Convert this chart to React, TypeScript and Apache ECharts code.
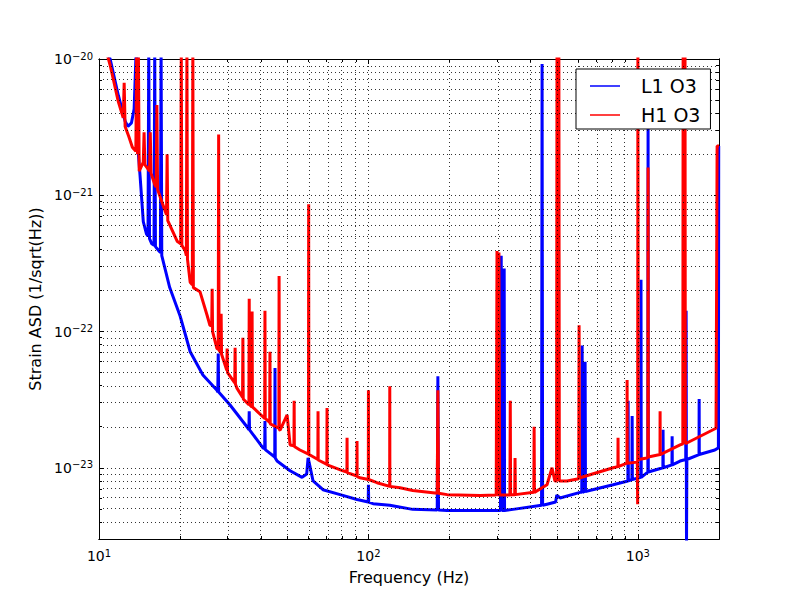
import { useEffect, useRef } from "react";
import * as echarts from "echarts";

// [frequency Hz, strain ASD 1/sqrt(Hz)]
const L1_O3: [number, number][] = [
  [10.8, 1.1e-20], [11.0, 1.0e-20], [11.8, 5.4e-21], [12.5, 3.5e-21], [12.8, 3.2e-21],
  [13.2, 3.4e-21], [13.5, 4.3e-21], [13.7, 1.0e-20], [13.8, 1.2e-20], [14.0, 2.0e-21],
  [14.2, 1.4e-21], [14.6, 6.4e-22], [15.0, 5.2e-22], [15.2, 5.0e-22], [15.3, 1.2e-20],
  [15.4, 4.8e-22], [15.7, 4.4e-22], [16.0, 4.3e-22], [16.1, 1.2e-20], [16.2, 4.2e-22],
  [16.7, 3.9e-22], [16.9, 3.8e-22], [17.0, 1.2e-20], [17.1, 3.6e-22], [18.3, 2.1e-22],
  [20.0, 1.3e-22], [21.8, 7.1e-23], [24.3, 4.8e-23], [27.4, 3.7e-23], [27.6, 3.6e-23],
  [27.7, 6.9e-23], [27.8, 3.6e-23], [30.6, 2.9e-23], [35.4, 2.0e-23], [36.0, 1.9e-23],
  [36.1, 2.6e-23], [36.2, 1.9e-23], [40.6, 1.4e-23], [41.2, 1.38e-23], [41.3, 2.2e-23],
  [41.4, 1.36e-23], [44.9, 1.2e-23], [45.0, 5.4e-23], [45.1, 1.18e-23], [45.8, 1.12e-23],
  [51.2, 9.5e-24], [56.7, 8.5e-24], [59.0, 9.0e-24], [59.7, 1.18e-23], [60.2, 1.1e-23],
  [62.3, 8.0e-24], [67.8, 6.9e-24], [78.5, 6.35e-24], [90.7, 5.85e-24], [99.8, 5.6e-24],
  [100.0, 7.5e-24], [100.2, 5.6e-24], [104, 5.45e-24], [120, 5.3e-24], [146, 4.95e-24],
  [180, 4.9e-24], [181, 4.7e-23], [182, 4.9e-24], [196, 4.85e-24], [260, 4.85e-24],
  [309, 4.85e-24], [311, 3.6e-22], [313, 4.85e-24], [318, 4.85e-24], [319, 2.9e-22],
  [320, 4.85e-24], [344, 4.95e-24], [439, 5.3e-24], [441, 9.2e-21], [443, 5.3e-24],
  [460, 5.4e-24], [495, 5.6e-24], [500, 6.3e-24], [514, 6.0e-24], [610, 6.6e-24],
  [619, 6.6e-24], [621, 7.9e-23], [623, 6.6e-24], [635, 6.7e-24], [637, 6.0e-23],
  [639, 6.7e-24], [809, 7.5e-24], [918, 8.0e-24], [920, 3.1e-23], [922, 8.0e-24],
  [950, 8.2e-24], [952, 2.4e-23], [954, 8.2e-24], [1025, 8.5e-24], [1027, 2.4e-22],
  [1029, 8.5e-24], [1082, 9.2e-24], [1089, 9.3e-24], [1091, 4.2e-21], [1093, 9.3e-24],
  [1238, 1.0e-23], [1240, 1.9e-23], [1242, 1.0e-23], [1338, 1.05e-23], [1340, 1.7e-23],
  [1342, 1.05e-23], [1434, 1.12e-23], [1505, 1.15e-23], [1510, 1.42e-22], [1515, 2.5e-24],
  [1520, 1.15e-23], [1686, 1.25e-23], [1688, 3.2e-23], [1690, 1.25e-23], [1930, 1.35e-23],
  [1990, 1.4e-23], [1995, 2.3e-21], [2000, 2.3e-21]
];

const H1_O3: [number, number][] = [
  [10.7, 1.1e-20], [11.0, 9.0e-21], [11.8, 4.85e-21], [12.3, 3.7e-21], [12.4, 6.7e-21],
  [12.5, 3.2e-21], [12.9, 2.7e-21], [13.3, 2.25e-21], [13.7, 2.1e-21], [13.8, 1.2e-20],
  [13.9, 2.0e-21], [14.0, 1.2e-20], [14.1, 1.5e-21], [14.6, 1.75e-21], [14.7, 2.9e-21],
  [14.8, 1.68e-21], [15.4, 1.5e-21], [15.5, 2.9e-21], [15.6, 1.45e-21], [16.1, 1.2e-21],
  [16.3, 1.15e-21], [16.4, 4.6e-21], [16.5, 1.1e-21], [17.1, 9.0e-22], [17.8, 7.2e-22],
  [17.9, 2.0e-21], [18.0, 6.5e-22], [19.5, 4.6e-22], [20.1, 4.4e-22], [20.2, 1.2e-20],
  [20.3, 4.3e-22], [20.9, 3.9e-22], [21.1, 3.6e-22], [21.2, 1.2e-20], [21.3, 3.4e-22],
  [21.8, 2.3e-22], [22.2, 2.2e-22], [22.3, 1.2e-20], [22.4, 2.1e-22], [23.7, 1.96e-22],
  [25.2, 1.31e-22], [25.8, 1.11e-22], [26.2, 1.1e-22], [26.3, 2.06e-22], [26.4, 1.0e-22],
  [27.4, 7.5e-23], [27.7, 7.4e-23], [27.8, 2.79e-21], [27.9, 7.3e-23], [28.3, 7.0e-23],
  [28.4, 1.35e-22], [28.5, 6.8e-23], [29.8, 5.2e-23], [29.9, 7.5e-23], [30.0, 5.0e-23],
  [31.9, 4.2e-23], [32.0, 7.6e-23], [32.1, 4.1e-23], [32.5, 3.84e-23], [34.1, 3.3e-23],
  [34.2, 9.0e-23], [34.3, 3.2e-23], [36.0, 2.9e-23], [36.1, 1.74e-22], [36.2, 2.9e-23],
  [36.9, 2.8e-23], [37.0, 1.4e-22], [37.1, 2.8e-23], [41.2, 2.3e-23], [41.3, 1.42e-22],
  [41.4, 2.3e-23], [43.0, 2.15e-23], [43.1, 7.1e-23], [43.2, 2.1e-23], [46.5, 1.95e-23],
  [46.6, 2.56e-22], [46.7, 1.9e-23], [47.0, 1.89e-23], [49.9, 2.44e-23], [51.2, 1.47e-23],
  [52.9, 1.45e-23], [53.0, 3.1e-23], [53.1, 1.43e-23], [55.7, 1.35e-23], [59.9, 1.26e-23],
  [60.0, 8.6e-22], [60.1, 1.25e-23], [60.7, 1.24e-23], [64.9, 1.15e-23], [65.0, 2.6e-23],
  [65.1, 1.14e-23], [70.1, 1.06e-23], [70.2, 2.74e-23], [70.3, 1.05e-23], [80.5, 9.5e-24],
  [83.2, 9.3e-24], [83.3, 1.66e-23], [83.4, 9.2e-24], [90.6, 8.7e-24], [90.7, 1.57e-23],
  [90.8, 8.6e-24], [93.1, 8.45e-24], [99.9, 8.2e-24], [100.0, 3.71e-23], [100.1, 8.2e-24],
  [107.6, 7.77e-24], [119.9, 7.3e-24], [120.0, 3.97e-23], [120.1, 7.3e-24], [131, 7.14e-24],
  [146, 6.8e-24], [180, 6.5e-24], [181, 3.7e-23], [182, 6.5e-24], [196, 6.35e-24],
  [260, 6.25e-24], [298, 6.3e-24], [300, 3.9e-22], [302, 6.3e-24], [304, 6.3e-24],
  [305, 3.8e-22], [307, 6.3e-24], [335, 6.3e-24], [336, 3.1e-23], [337, 6.3e-24],
  [344, 6.35e-24], [349, 6.35e-24], [350, 1.18e-23], [351, 6.35e-24], [411, 6.6e-24],
  [412, 2.0e-23], [413, 6.6e-24], [460, 7.5e-24], [480, 1.0e-23], [492, 8.0e-24],
  [499, 8.0e-24], [501, 1.2e-20], [509, 1.2e-20], [511, 8.0e-24], [546, 8.0e-24],
  [603, 8.3e-24], [605, 1.11e-22], [607, 8.3e-24], [610, 8.45e-24], [809, 1.0e-23],
  [843, 1.02e-23], [844, 1.66e-23], [845, 1.02e-23], [911, 1.08e-23], [912, 4.4e-23],
  [913, 1.08e-23], [995, 1.1e-23], [998, 5.4e-24], [1000, 1.2e-20], [1003, 1.15e-23],
  [1082, 1.18e-23], [1089, 1.2e-23], [1091, 1.6e-21], [1093, 1.2e-23], [1208, 1.25e-23],
  [1209, 2.6e-23], [1210, 1.25e-23], [1434, 1.47e-23], [1468, 1.5e-23], [1472, 1.2e-20],
  [1496, 1.2e-20], [1500, 1.5e-23], [1950, 1.95e-23], [1960, 2.5e-22], [1968, 2.3e-21],
  [2000, 2.3e-21]
];

const FREQ_RANGE = [10, 2000];
const ASD_RANGE = [3e-24, 1e-20];
const FREQ_MAJOR = [10, 100, 1000];
const FREQ_MINOR = [20, 30, 40, 50, 60, 70, 80, 90, 200, 300, 400, 500, 600, 700, 800, 900];
const ASD_MAJOR = [1e-23, 1e-22, 1e-21, 1e-20];
const ASD_MINOR = [
  4e-24, 5e-24, 6e-24, 7e-24, 8e-24, 9e-24,
  2e-23, 3e-23, 4e-23, 5e-23, 6e-23, 7e-23, 8e-23, 9e-23,
  2e-22, 3e-22, 4e-22, 5e-22, 6e-22, 7e-22, 8e-22, 9e-22,
  2e-21, 3e-21, 4e-21, 5e-21, 6e-21, 7e-21, 8e-21, 9e-21
];

const FONT = "DejaVu Sans";
const lg = (v: number) => Math.log10(v);

const powLabel = {
  formatter: (value: number) => `{b|10}{s|${Math.round(value).toString().replace("-", "\u2212")}}`,
  rich: {
    b: { fontSize: 14, fontFamily: FONT, color: "#000" },
    s: { fontSize: 10, fontFamily: FONT, color: "#000", padding: [0, 0, 6, 0] }
  }
};

const axis = (
  dim: "x" | "y",
  position: string,
  ticks: number[],
  length: number,
  label: boolean,
  extra: Record<string, unknown> = {}
) => {
  const range = dim === "x" ? FREQ_RANGE : ASD_RANGE;
  return {
    type: "value" as const,
    position,
    min: lg(range[0]),
    max: lg(range[1]),
    axisLine: { show: true, onZero: false, lineStyle: { color: "#000", width: 1 } },
    axisTick: {
      show: true,
      inside: true,
      length,
      customValues: ticks.map(lg),
      lineStyle: { color: "#000", width: 1 }
    },
    axisLabel: label
      ? { show: true, customValues: ticks.map(lg), margin: dim === "x" ? 9 : 6, ...powLabel }
      : { show: false },
    splitLine: { show: false },
    ...extra
  };
};

const gridLine = {
  silent: true,
  symbol: ["none", "none"],
  label: { show: false },
  emphasis: { disabled: true },
  animation: false,
  lineStyle: { color: "#000", type: [1, 3], width: 1, opacity: 0.8 },
  data: [
    ...[...FREQ_MAJOR.slice(1), ...FREQ_MINOR].map((f) => ({ xAxis: lg(f) })),
    ...[...ASD_MAJOR.slice(0, -1), ...ASD_MINOR].map((v) => ({ yAxis: lg(v) }))
  ]
};

const toLog = (data: [number, number][]) => data.map(([f, v]) => [lg(f), lg(v)]);

export default function App() {
  const ref = useRef<HTMLDivElement>(null);

  useEffect(() => {
    const host = ref.current;
    if (host === null) return;
    const chart = echarts.init(host, undefined, { renderer: "svg" });
    chart.setOption({
      animation: false,
      backgroundColor: "#fff",
      textStyle: { fontFamily: FONT },
      grid: { left: 99, right: 81, top: 59, bottom: 61, containLabel: false },
      legend: {
        data: ["L1 O3", "H1 O3"],
        orient: "vertical",
        left: 576,
        top: 69,
        z: 20,
        padding: [7, 10, 4, 14],
        itemGap: 9,
        itemWidth: 30,
        itemHeight: 1.5,
        icon: "rect",
        backgroundColor: "#fff",
        borderColor: "#000",
        borderWidth: 1,
        borderRadius: 0,
        textStyle: { fontSize: 19, fontFamily: FONT, color: "#000", padding: [0, 0, 0, 16], lineHeight: 20 }
      },
      xAxis: [
        axis("x", "bottom", FREQ_MAJOR, 5, true, {
          name: "Frequency (Hz)",
          nameLocation: "middle",
          nameGap: 30,
          nameTextStyle: { fontSize: 16, fontFamily: FONT, color: "#000" }
        }),
        axis("x", "bottom", FREQ_MINOR, 3, false),
        axis("x", "top", FREQ_MAJOR, 5, false),
        axis("x", "top", FREQ_MINOR, 3, false)
      ],
      yAxis: [
        axis("y", "left", ASD_MAJOR, 5, true, {
          name: "Strain ASD (1/sqrt(Hz))",
          nameLocation: "middle",
          nameGap: 54,
          nameTextStyle: { fontSize: 16, fontFamily: FONT, color: "#000" }
        }),
        axis("y", "left", ASD_MINOR, 3, false),
        axis("y", "right", ASD_MAJOR, 5, false),
        axis("y", "right", ASD_MINOR, 3, false)
      ],
      series: [
        {
          name: "grid",
          type: "line",
          data: [],
          z: 1,
          markLine: gridLine
        },
        {
          name: "L1 O3",
          type: "line",
          data: toLog(L1_O3),
          showSymbol: false,
          clip: true,
          z: 3,
          color: "#0000ff",
          lineStyle: { color: "#0000ff", width: 3 }
        },
        {
          name: "H1 O3",
          type: "line",
          data: toLog(H1_O3),
          showSymbol: false,
          clip: true,
          z: 4,
          color: "#ff0000",
          lineStyle: { color: "#ff0000", width: 3 }
        }
      ]
    });
    return () => chart.dispose();
  }, []);

  return <div ref={ref} style={{ position: "fixed", left: 0, top: 0, width: 800, height: 600 }} />;
}
